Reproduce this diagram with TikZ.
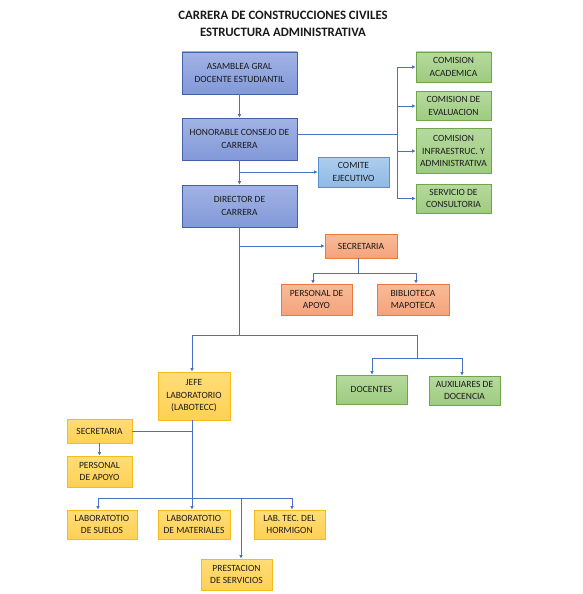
\documentclass[tikz,border=0pt]{standalone}
\usepackage{fontspec}
\setmainfont{Carlito}
\usetikzlibrary{arrows.meta,calc}
\definecolor{lnblue}{HTML}{4A72C0}
\definecolor{bluetop}{HTML}{A2B3E4}
\definecolor{bluebot}{HTML}{8299D9}
\definecolor{blueborder}{HTML}{4461A6}
\definecolor{ltbluetop}{HTML}{ADCDEE}
\definecolor{ltbluebot}{HTML}{90BAE5}
\definecolor{ltblueborder}{HTML}{5B8FCC}
\definecolor{greentop}{HTML}{B6DA9E}
\definecolor{greenbot}{HTML}{9ECB80}
\definecolor{greenborder}{HTML}{6FA64A}
\definecolor{orangetop}{HTML}{F8BC98}
\definecolor{orangebot}{HTML}{F4A37C}
\definecolor{orangeborder}{HTML}{E77B3C}
\definecolor{yellowtop}{HTML}{FFDD78}
\definecolor{yellowbot}{HTML}{FFD055}
\definecolor{yellowborder}{HTML}{F5BC1A}
\definecolor{txt}{HTML}{1A1A1A}
\begin{document}
\begin{tikzpicture}[x=1pt,y=-1pt,
  box/.style n args={2}{draw, line width=0.8pt, align=center, inner sep=1pt,
    font=\fontsize{9.5}{12.5}\selectfont, text=txt,
    minimum width=#1, minimum height=#2},
  bluebox/.style={top color=bluetop, bottom color=bluebot, draw=blueborder},
  ltbluebox/.style={top color=ltbluetop, bottom color=ltbluebot, draw=ltblueborder},
  greenbox/.style={top color=greentop, bottom color=greenbot, draw=greenborder},
  orangebox/.style={top color=orangetop, bottom color=orangebot, draw=orangeborder},
  yellowbox/.style={top color=yellowtop, bottom color=yellowbot, draw=yellowborder},
  line/.style={draw=lnblue, line width=0.75pt},
  con/.style={line, -{Latex[length=3.5pt,width=3.5pt]}},
  title/.style={font=\bfseries\fontsize{12.8}{15}\selectfont, text=txt}
]
\path[use as bounding box] (0,0) rectangle (583,594);

% title
\node[title] (t1) at (283,15) {CARRERA DE CONSTRUCCIONES CIVILES};
\node[title] (t2) at (283,32.5) {ESTRUCTURA ADMINISTRATIVA};

% blue
\node[box={115pt}{42pt}, bluebox] (asam) at (239.5,73) {ASAMBLEA GRAL\\DOCENTE ESTUDIANTIL};
\node[box={115pt}{42pt}, bluebox] (hon) at (239.5,139) {HONORABLE CONSEJO DE\\CARRERA};
\node[box={115pt}{42pt}, bluebox] (dir) at (239.5,206) {DIRECTOR DE\\CARRERA};
\node[box={71pt}{30pt}, ltbluebox] (comite) at (353.5,172) {COMITE\\EJECUTIVO};

% green right
\node[box={75pt}{30pt}, greenbox] (acad) at (453.5,67) {COMISION\\ACADEMICA};
\node[box={75pt}{29pt}, greenbox] (eval) at (453.5,106) {COMISION DE\\EVALUACION};
\node[box={75pt}{45pt}, greenbox] (infra) at (453.5,151) {COMISION\\INFRAESTRUC. Y\\ADMINISTRATIVA};
\node[box={75pt}{29pt}, greenbox] (consult) at (453.5,198.5) {SERVICIO DE\\CONSULTORIA};

% orange
\node[box={72pt}{24pt}, orangebox] (secd) at (361,246) {SECRETARIA};
\node[box={71pt}{31pt}, orangebox] (pers1) at (316.5,299.5) {PERSONAL DE\\APOYO};
\node[box={72pt}{31pt}, orangebox] (bibl) at (413,299.5) {BIBLIOTECA\\MAPOTECA};

% green middle
\node[box={71pt}{29pt}, greenbox] (doc) at (371.5,389.5) {DOCENTES};
\node[box={71pt}{29pt}, greenbox] (aux) at (464.5,390.5) {AUXILIARES DE\\DOCENCIA};

% yellow
\node[box={72pt}{48pt}, yellowbox] (jefe) at (194,396) {JEFE\\LABORATORIO\\(LABOTECC)};
\node[box={65pt}{24pt}, yellowbox] (secl) at (99.5,431) {SECRETARIA};
\node[box={65pt}{31pt}, yellowbox] (pers2) at (99.5,471.5) {PERSONAL\\DE APOYO};
\node[box={70pt}{29pt}, yellowbox] (suelos) at (102,524.5) {LABORATOTIO\\DE SUELOS};
\node[box={72pt}{29pt}, yellowbox] (mat) at (194,524.5) {LABORATOTIO\\DE MATERIALES};
\node[box={71pt}{29pt}, yellowbox] (horm) at (289.5,524.5) {LAB. TEC. DEL\\HORMIGON};
\node[box={71pt}{31pt}, yellowbox] (prest) at (236.5,574.5) {PRESTACION\\DE SERVICIOS};

% connectors: top
\draw[con] (asam) -- (hon);
\coordinate (br) at (397,134);
\draw[line] (hon.east |- br) -- (br);
\draw[line] (acad.west -| br) -- (consult.west -| br);
\foreach \n in {acad,eval,infra,consult} \draw[con] (\n.west -| br) -- (\n.west);
\draw[con] (hon) -- (dir);
\coordinate (c1) at (239.5,172);
\draw[con] (c1) -- (comite.west);

% director branch
\coordinate (d1) at (239.5,246);
\draw[con] (d1) -- (secd.west);
\coordinate (d2) at (239.5,335);
\draw[line] (dir.south) -- (d2);

% secretaria orange
\coordinate (s1) at (358,273);
\coordinate (s2) at (313,273);
\coordinate (s3) at (416,273);
\draw[line] (s1 |- secd.south) -- (s1);
\draw[line] (s2) -- (s3);
\draw[con] (s2) -- (s2 |- pers1.north);
\draw[con] (s3) -- (s3 |- bibl.north);

% main bus
\coordinate (e1) at (192,335);
\coordinate (e2) at (417,335);
\draw[line] (e1) -- (e2);
\draw[con] (e1) -- (e1 |- jefe.north);
\coordinate (e3) at (417,358);
\draw[line] (e2) -- (e3);
\coordinate (f1) at (372,358);
\coordinate (f2) at (462,358);
\draw[line] (f1) -- (f2);
\draw[con] (f1) -- (f1 |- doc.north);
\draw[con] (f2) -- (f2 |- aux.north);

% laboratory
\coordinate (g0) at (192,431);
\draw[line] (secl.east |- g0) -- (g0);
\draw[con] (secl) -- (pers2);
\coordinate (g1) at (192,498);
\draw[line] (g1 |- jefe.south) -- (g1);
\coordinate (gL) at (98,498);
\coordinate (gR) at (292,498);
\draw[line] (gL) -- (gR);
\draw[con] (gL) -- (gL |- suelos.north);
\draw[con] (g1) -- (g1 |- mat.north);
\draw[con] (gR) -- (gR |- horm.north);
\coordinate (gP) at (241,498);
\draw[con] (gP) -- (gP |- prest.north);
\end{tikzpicture}
\end{document}
